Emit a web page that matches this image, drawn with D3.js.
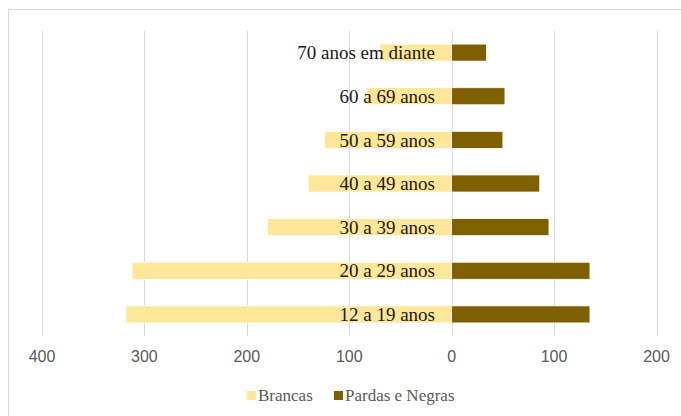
<!DOCTYPE html>
<html>

<head>
    <meta charset="utf-8">
    <title>Brancas x Pardas e Negras</title>
    <script src="https://d3js.org/d3.v7.min.js"></script>
    <style>
        body { margin: 0; background: #fff; }
    </style>
</head>

<body>
    <script type="text/javascript">
        // faixas etarias, da mais nova para a mais velha
        let faixas = ["12 a 19 anos", "20 a 29 anos", "30 a 39 anos", "40 a 49 anos",
            "50 a 59 anos", "60 a 69 anos", "70 anos em diante"];
        let brancas = [318, 312, 180, 140, 124, 83, 70];
        let pardasNegras = [135, 135, 95, 86, 50, 52, 34];
        let ticks = [-400, -300, -200, -100, 0, 100, 200];
        let series = ["Brancas", "Pardas e Negras"];
        let colors = ["#FFE699", "#7F6000"];

        let width = 681, height = 416;

        let svg = d3.select("body").append("svg")
            .attr("width", width)
            .attr("height", height);

        // moldura do grafico
        svg.append("rect")
            .attr("x", 8.5).attr("y", 9.5)
            .attr("width", 720).attr("height", 500)
            .attr("fill", "none")
            .attr("stroke", "#d9d9d9");

        let x = d3.scaleLinear().domain([-400, 200]).range([42, 656.5]);
        let y = d3.scaleBand().domain(faixas.slice().reverse()).range([31, 336]).paddingInner(0.61).paddingOuter(0.3);

        // linhas de grade
        svg.append("g").selectAll("line")
            .data(ticks)
            .join("line")
            .attr("x1", d => Math.round(x(d)) + 0.5)
            .attr("x2", d => Math.round(x(d)) + 0.5)
            .attr("y1", 31).attr("y2", 336)
            .attr("stroke", "#d9d9d9");

        // rotulos do eixo
        svg.append("g").selectAll("text")
            .data(ticks)
            .join("text")
            .attr("x", d => x(d))
            .attr("y", 362)
            .attr("text-anchor", "middle")
            .attr("font-family", "'Liberation Sans', Arial, sans-serif")
            .attr("font-size", 16)
            .attr("fill", "#595959")
            .text(d => Math.abs(d));

        let rows = faixas.map((f, i) => ({ faixa: f, b: brancas[i], p: pardasNegras[i] }));

        svg.append("g").selectAll("rect")
            .data(rows)
            .join("rect")
            .attr("x", d => x(-d.b))
            .attr("y", d => y(d.faixa))
            .attr("width", d => x(0) - x(-d.b))
            .attr("height", y.bandwidth())
            .attr("fill", colors[0])
            .attr("stroke", "#fff")
            .attr("stroke-width", 0.75);

        svg.append("g").selectAll("rect")
            .data(rows)
            .join("rect")
            .attr("x", x(0))
            .attr("y", d => y(d.faixa))
            .attr("width", d => x(d.p) - x(0))
            .attr("height", y.bandwidth())
            .attr("fill", colors[1])
            .attr("stroke", "#fff")
            .attr("stroke-width", 0.75);

        // nomes das faixas
        svg.append("g").selectAll("text")
            .data(rows)
            .join("text")
            .attr("x", 435)
            .attr("y", d => y(d.faixa) + y.bandwidth() / 2)
            .attr("dy", "0.35em")
            .attr("text-anchor", "end")
            .attr("font-family", "'Liberation Serif', 'Times New Roman', serif")
            .attr("font-size", 19)
            .attr("fill", "#1a1a1a")
            .text(d => d.faixa);

        // legenda
        let legendX = [247, 334];
        let legend = svg.append("g").selectAll("g")
            .data(series)
            .join("g")
            .attr("transform", (d, i) => "translate(" + legendX[i] + ",396)");
        legend.append("rect")
            .attr("x", 0).attr("y", -5)
            .attr("width", 9).attr("height", 9)
            .attr("fill", (d, i) => colors[i]);
        legend.append("text")
            .attr("x", 11)
            .attr("dy", "0.32em")
            .attr("font-family", "'Liberation Serif', 'Times New Roman', serif")
            .attr("font-size", 17)
            .attr("fill", "#595959")
            .text(d => d);
    </script>
</body>

</html>
